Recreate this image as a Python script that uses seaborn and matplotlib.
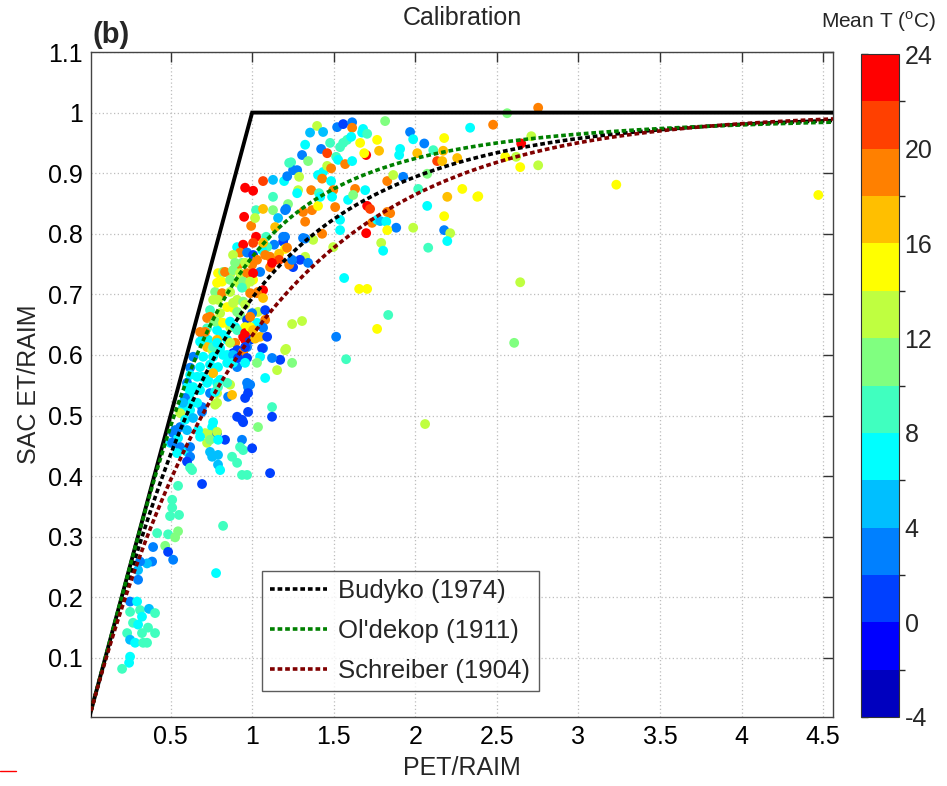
import numpy as np
import pandas as pd
import matplotlib
matplotlib.use("Agg")
import matplotlib.pyplot as plt
import seaborn as sns
from matplotlib.colors import ListedColormap, BoundaryNorm
from matplotlib.cm import ScalarMappable
from matplotlib.ticker import FuncFormatter
from matplotlib.lines import Line2D

# ---------------- data ----------------
pet_ratio = [
    2.753, 2.563, 2.477, 2.336, 2.711, 2.649, 2.551, 2.618, 2.643, 2.753,
    2.386, 3.232, 4.470, 2.643, 2.606, 2.060, 1.398, 1.355, 1.435, 1.521,
    1.558, 1.613, 1.613, 1.680, 1.674, 1.705, 1.815, 1.968, 1.987, 2.055,
    2.177, 1.325, 1.478, 1.423, 1.460, 1.539, 1.558, 1.582, 1.607, 1.662,
    1.699, 1.687, 1.766, 1.778, 1.907, 1.901, 2.012, 2.110, 2.134, 2.171,
    2.165, 2.257, 1.306, 1.343, 1.239, 1.251, 1.276, 1.288, 1.435, 1.404,
    1.460, 1.484, 1.429, 1.484, 1.515, 1.527, 1.570, 1.613, 1.196, 1.215,
    1.282, 1.276, 1.362, 1.410, 1.497, 1.490, 1.631, 1.693, 1.828, 1.865,
    1.926, 2.018, 2.073, 2.288, 2.196, 2.380, 1.202, 1.220, 1.312, 1.367,
    1.404, 1.509, 1.588, 1.619, 1.705, 1.723, 1.828, 1.846, 2.073, 2.177,
    1.735, 1.766, 1.785, 1.822, 1.883, 1.987, 1.828, 1.699, 1.539, 1.429,
    1.374, 1.325, 1.202, 1.190, 2.177, 2.214, 2.196, 2.079, 1.791, 1.803,
    1.497, 1.325, 1.294, 1.343, 1.251, 1.227, 1.202, 1.564, 1.656, 1.705,
    1.834, 1.766, 1.515, 1.306, 1.245, 1.208, 1.172, 1.245, 1.576, 1.067,
    1.128, 1.227, 0.957, 1.006, 1.128, 0.951, 1.024, 1.067, 1.128, 1.208,
    0.994, 1.018, 1.159, 1.141, 1.024, 1.086, 1.135, 1.190, 0.908, 0.945,
    0.926, 0.969, 1.092, 1.110, 1.165, 1.165, 1.214, 0.883, 0.938, 1.000,
    1.049, 1.110, 0.791, 0.822, 0.865, 0.908, 1.006, 1.245, 1.312, 1.061,
    1.122, 1.006, 1.539, 1.325, 1.417, 1.006, 1.067, 0.895, 0.957, 1.030,
    1.080, 0.834, 0.883, 0.926, 0.969, 1.006, 0.816, 0.865, 0.914, 0.957,
    0.988, 1.036, 1.067, 0.773, 0.816, 0.865, 0.908, 0.945, 1.036, 0.847,
    0.761, 0.742, 0.804, 0.883, 0.926, 0.969, 1.000, 1.030, 1.080, 0.724,
    0.761, 0.804, 0.865, 0.896, 0.957, 0.988, 0.724, 0.785, 0.822, 0.700,
    0.681, 0.730, 0.785, 0.847, 0.896, 0.945, 0.957, 0.988, 1.049, 1.067,
    0.969, 0.926, 0.883, 0.724, 0.755, 0.804, 0.847, 0.785, 0.945, 0.988,
    0.938, 1.030, 1.067, 0.791, 0.883, 0.957, 0.908, 0.988, 1.080, 0.742,
    0.773, 0.822, 0.865, 0.712, 0.908, 0.957, 0.988, 1.006, 1.018, 1.092,
    1.067, 0.681, 0.761, 0.865, 0.908, 0.945, 1.061, 1.122, 1.049, 1.030,
    0.969, 0.883, 0.822, 0.761, 0.700, 0.639, 0.620, 0.681, 0.742, 0.791,
    0.847, 0.908, 1.202, 1.153, 1.080, 0.988, 0.975, 0.865, 0.853, 0.877,
    0.785, 0.730, 0.693, 0.620, 0.601, 0.639, 0.681, 0.742, 0.785, 0.620,
    0.589, 0.577, 0.632, 0.693, 0.773, 0.957, 1.122, 0.908, 0.938, 1.122,
    1.036, 0.761, 0.755, 0.712, 0.742, 0.785, 0.834, 0.724, 0.559, 0.516,
    0.546, 0.497, 0.559, 0.601, 0.540, 0.620, 0.601, 0.620, 0.755, 0.791,
    0.877, 0.908, 0.938, 0.945, 1.000, 0.938, 0.969, 1.110, 0.663, 0.601,
    0.724, 0.761, 0.804, 0.577, 0.620, 0.663, 0.773, 0.791, 0.847, 0.785,
    0.559, 0.589, 0.638, 0.693, 0.528, 0.601, 0.669, 0.510, 0.620, 0.785,
    0.742, 0.681, 0.791, 0.742, 0.791, 0.926, 0.945, 0.975, 0.785, 0.883,
    0.914, 0.957, 0.957, 0.969, 0.975, 0.632, 0.804, 0.693, 0.546, 0.510,
    0.510, 0.497, 0.552, 0.822, 0.418, 0.485, 0.546, 0.528, 0.467, 0.393,
    0.485, 0.516, 0.387, 0.356, 0.313, 0.301, 0.301, 0.779, 0.252, 0.295,
    0.313, 0.368, 0.405, 0.252, 0.325, 0.270, 0.301, 0.362, 0.325, 0.405,
    0.234, 0.252, 0.283, 0.332, 0.356, 0.252, 0.246, 0.203,
]
et_ratio = [
    1.008, 0.999, 0.980, 0.975, 0.961, 0.949, 0.927, 0.927, 0.910, 0.913,
    0.862, 0.881, 0.864, 0.720, 0.620, 0.486, 0.978, 0.967, 0.968, 0.976,
    0.981, 0.984, 0.975, 0.973, 0.967, 0.965, 0.986, 0.968, 0.956, 0.949,
    0.958, 0.947, 0.950, 0.940, 0.933, 0.943, 0.950, 0.955, 0.960, 0.950,
    0.930, 0.933, 0.955, 0.937, 0.940, 0.930, 0.933, 0.938, 0.920, 0.937,
    0.920, 0.925, 0.930, 0.920, 0.918, 0.905, 0.905, 0.894, 0.902, 0.897,
    0.912, 0.908, 0.891, 0.887, 0.927, 0.922, 0.915, 0.920, 0.887, 0.895,
    0.872, 0.867, 0.872, 0.867, 0.872, 0.861, 0.874, 0.872, 0.887, 0.897,
    0.894, 0.874, 0.899, 0.874, 0.861, 0.861, 0.839, 0.849, 0.836, 0.839,
    0.846, 0.844, 0.856, 0.864, 0.846, 0.841, 0.836, 0.834, 0.846, 0.829,
    0.818, 0.823, 0.821, 0.820, 0.810, 0.810, 0.806, 0.801, 0.806, 0.800,
    0.790, 0.792, 0.795, 0.787, 0.806, 0.801, 0.788, 0.777, 0.785, 0.772,
    0.778, 0.762, 0.757, 0.752, 0.745, 0.749, 0.775, 0.727, 0.709, 0.709,
    0.666, 0.643, 0.630, 0.656, 0.651, 0.610, 0.592, 0.587, 0.593, 0.887,
    0.889, 0.917, 0.876, 0.871, 0.861, 0.828, 0.839, 0.841, 0.839, 0.841,
    0.813, 0.826, 0.826, 0.811, 0.795, 0.795, 0.782, 0.795, 0.778, 0.782,
    0.769, 0.769, 0.778, 0.762, 0.767, 0.757, 0.777, 0.765, 0.752, 0.749,
    0.737, 0.745, 0.735, 0.737, 0.732, 0.745, 0.724, 0.757, 0.793, 0.773,
    0.752, 0.765, 0.823, 0.820, 0.861, 0.785, 0.785, 0.752, 0.752, 0.757,
    0.765, 0.737, 0.740, 0.735, 0.735, 0.735, 0.721, 0.724, 0.719, 0.712,
    0.702, 0.704, 0.707, 0.704, 0.702, 0.704, 0.691, 0.688, 0.671, 0.679,
    0.691, 0.674, 0.669, 0.678, 0.666, 0.658, 0.669, 0.653, 0.658, 0.661,
    0.658, 0.653, 0.646, 0.646, 0.646, 0.636, 0.644, 0.641, 0.633, 0.630,
    0.638, 0.625, 0.625, 0.625, 0.620, 0.630, 0.625, 0.625, 0.630, 0.611,
    0.613, 0.603, 0.603, 0.613, 0.608, 0.611, 0.600, 0.719, 0.721, 0.721,
    0.711, 0.702, 0.694, 0.691, 0.686, 0.683, 0.671, 0.663, 0.674, 0.663,
    0.655, 0.653, 0.655, 0.638, 0.641, 0.636, 0.646, 0.641, 0.627, 0.630,
    0.645, 0.622, 0.613, 0.620, 0.608, 0.605, 0.611, 0.595, 0.597, 0.587,
    0.595, 0.600, 0.600, 0.597, 0.597, 0.597, 0.579, 0.580, 0.584, 0.580,
    0.587, 0.580, 0.608, 0.575, 0.562, 0.551, 0.547, 0.551, 0.531, 0.534,
    0.554, 0.559, 0.564, 0.567, 0.554, 0.547, 0.542, 0.537, 0.537, 0.537,
    0.529, 0.514, 0.521, 0.514, 0.518, 0.529, 0.514, 0.498, 0.493, 0.498,
    0.481, 0.489, 0.481, 0.471, 0.468, 0.471, 0.460, 0.455, 0.481, 0.471,
    0.463, 0.455, 0.448, 0.440, 0.438, 0.432, 0.424, 0.414, 0.432, 0.419,
    0.432, 0.422, 0.460, 0.443, 0.446, 0.402, 0.402, 0.405, 0.564, 0.547,
    0.554, 0.570, 0.559, 0.521, 0.509, 0.521, 0.539, 0.547, 0.554, 0.521,
    0.504, 0.493, 0.496, 0.506, 0.476, 0.476, 0.476, 0.455, 0.448, 0.473,
    0.460, 0.465, 0.460, 0.440, 0.435, 0.448, 0.489, 0.506, 0.620, 0.587,
    0.595, 0.613, 0.587, 0.554, 0.537, 0.410, 0.410, 0.387, 0.384, 0.361,
    0.348, 0.334, 0.336, 0.318, 0.306, 0.304, 0.309, 0.299, 0.285, 0.283,
    0.275, 0.262, 0.259, 0.256, 0.259, 0.245, 0.229, 0.240, 0.193, 0.193,
    0.179, 0.181, 0.174, 0.176, 0.168, 0.158, 0.155, 0.150, 0.141, 0.141,
    0.141, 0.130, 0.125, 0.125, 0.125, 0.102, 0.092, 0.082,
]
mean_t = [
    19, 11, 19, 7, 13, 23, 15, 13, 15, 13,
    15, 15, 15, 13, 11, 13, 13, 5, 5, 3,
    1, 3, 19, 7, 7, 9, 11, 3, 7, 3,
    15, 7, 9, 3, 21, 9, 9, 9, 7, 15,
    23, 15, 15, 17, 7, 7, 17, 9, 21, 17,
    17, 17, 3, 11, 9, 3, 3, 13, 7, 7,
    13, 19, 19, 7, 9, 7, 19, 7, 7, 3,
    13, 7, 19, 9, 19, 7, 19, 7, 19, 13,
    3, 9, 11, 15, 17, 15, 3, 11, 19, 19,
    15, 19, 7, 11, 23, 21, 19, 19, 7, 15,
    19, 7, 5, 7, 3, 13, 15, 23, 7, 19,
    13, 3, 3, 1, 3, 13, 7, 9, 13, 7,
    13, 13, 1, 3, 1, 19, 15, 7, 15, 15,
    9, 15, 3, 13, 13, 13, 1, 11, 9, 21,
    5, 9, 23, 23, 9, 23, 9, 17, 11, 3,
    19, 13, 5, 17, 23, 9, 3, 3, 7, 23,
    19, 3, 9, 19, 17, 21, 19, 13, 11, 19,
    3, 19, 15, 11, 13, 19, 15, 3, 3, 7,
    23, 1, 7, 19, 7, 21, 17, 11, 13, 19,
    19, 19, 11, 13, 19, 23, 15, 11, 13, 13,
    19, 19, 23, 11, 19, 13, 13, 11, 13, 15,
    13, 9, 13, 15, 11, 1, 3, 7, 19, 19,
    13, 15, 13, 7, 15, 13, 9, 7, 7, 5,
    19, 7, 17, 7, 19, 23, 23, 1, 17, 3,
    3, 1, 1, 17, 13, 7, 7, 15, 11, 13,
    9, 19, 17, 13, 13, 13, 11, 19, 1, 19,
    11, 15, 7, 19, 9, 23, 15, 17, 17, 1,
    3, 7, 9, 13, 1, 19, 1, 3, 7, 11,
    1, 5, 7, 7, 7, 3, 3, 7, 7, 7,
    7, 3, 13, 13, 7, 3, 3, 13, 3, 17,
    7, 7, 7, 7, 3, 7, 7, 3, 13, 7,
    3, 7, 7, 3, 13, 1, 9, 1, 1, 1,
    11, 7, 7, 13, 13, 3, 1, 13, 3, 3,
    7, 7, 3, 7, 7, 3, 1, 9, 5, 5,
    9, 9, 3, 9, 1, 9, 9, 1, 7, 7,
    7, 17, 7, 5, 7, 7, 7, 9, 9, 13,
    13, 7, 5, 3, 3, 5, 7, 3, 3, 13,
    11, 7, 7, 5, 5, 9, 1, 1, 7, 7,
    1, 1, 7, 3, 1, 9, 7, 1, 9, 9,
    9, 9, 9, 9, 9, 9, 11, 11, 11, 3,
    1, 3, 3, 5, 3, 5, 3, 7, 3, 7,
    9, 5, 9, 9, 7, 9, 7, 9, 9, 9,
    9, 5, 7, 9, 9, 7, 7, 9,
]

t_bounds = list(range(-4, 25, 2))
cbar_ticks = [-4, 0, 4, 8, 12, 16, 20, 24]
x_ticks = [0.5, 1, 1.5, 2, 2.5, 3, 3.5, 4, 4.5]
y_ticks = [0.1, 0.2, 0.3, 0.4, 0.5, 0.6, 0.7, 0.8, 0.9, 1.0, 1.1]
limit_x = [0.0, 1.0, 4.6]
limit_y = [0.0, 1.0, 1.0]
curve_labels = ["Budyko (1974)", "Ol'dekop (1911)", "Schreiber (1904)"]

# ---------------- style ----------------
sns.set_theme(style="white")
plt.rcParams['font.family'] = ['Liberation Sans', 'DejaVu Sans']
plt.rcParams['mathtext.fontset'] = 'custom'
plt.rcParams['mathtext.rm'] = 'Liberation Sans'

jet14 = [(0, 0, 0.75), (0, 0, 1), (0, 0.25, 1), (0, 0.5, 1), (0, 0.75, 1),
         (0, 1, 1), (0.25, 1, 0.75), (0.5, 1, 0.5), (0.75, 1, 0.25), (1, 1, 0),
         (1, 0.75, 0), (1, 0.5, 0), (1, 0.25, 0), (1, 0, 0)]
cmap = ListedColormap(jet14)
norm = BoundaryNorm(t_bounds, cmap.N)

W, H = 947, 786
fig = plt.figure(figsize=(W / 100, H / 100), dpi=100)
ax = fig.add_axes([91 / W, 1 - 717 / H, 742 / W, 665 / H])
cax = fig.add_axes([861 / W, 1 - 717 / H, 38 / W, 663 / H])

df = pd.DataFrame({"PET/RAIM": pet_ratio, "SAC ET/RAIM": et_ratio, "Mean T": mean_t})
sns.scatterplot(data=df, x="PET/RAIM", y="SAC ET/RAIM", hue="Mean T",
                palette=cmap, hue_norm=norm, s=50, linewidth=0,
                legend=False, ax=ax, zorder=2)

# theoretical curves
phi = np.linspace(0.0125, 4.6, 500)
budyko = np.sqrt(phi * np.tanh(1 / phi) * (1 - np.exp(-phi)))
oldekop = phi * np.tanh(1 / phi)
schreiber = 1 - np.exp(-phi)

ax.plot(limit_x, limit_y, color='black', lw=2.8, zorder=3, solid_joinstyle='miter')
dots = (0, (1.3, 0.8))
lw_c = 2.6
h1, = ax.plot(phi, budyko, color='black', lw=lw_c, linestyle=dots, zorder=4)
h2, = ax.plot(phi, oldekop, color=(0, 0.5, 0), lw=lw_c, linestyle=dots, zorder=4)
h3, = ax.plot(phi, schreiber, color=(0.5, 0, 0), lw=lw_c, linestyle=dots, zorder=4)

ax.set_xlim(0.0125, 4.56)
ax.set_ylim(0.0025, 1.1)
ax.set_xticks(x_ticks)
ax.set_yticks(y_ticks)
fmt = FuncFormatter(lambda v, p: f"{v:g}")
ax.xaxis.set_major_formatter(fmt)
ax.yaxis.set_major_formatter(fmt)
ax.grid(True, linestyle=(0, (1, 2)), color='#bdbdbd', lw=0.9)
ax.set_axisbelow(True)
ax.tick_params(direction='in', top=True, right=True, length=7, width=1,
               color='#333333', labelsize=18, labelcolor='black', pad=6)
for sp in ax.spines.values():
    sp.set_color('#444444')
    sp.set_linewidth(1.0)
ax.set_xlabel("PET/RAIM", fontsize=18, labelpad=5)
ax.set_ylabel("SAC ET/RAIM", fontsize=18, labelpad=5)

leg = ax.legend([h1, h2, h3], curve_labels, loc='upper left',
                bbox_to_anchor=(0.2305, 0.2195), fontsize=18.5, frameon=True,
                fancybox=False, edgecolor='#333333', handlelength=2.2,
                labelspacing=0.62, borderpad=0.32, handletextpad=0.45,
                borderaxespad=0)
leg.get_frame().set_linewidth(1.0)

# colorbar
cb = fig.colorbar(ScalarMappable(norm=norm, cmap=cmap), cax=cax, ticks=cbar_ticks)
cb.outline.set_linewidth(0.8)
cb.outline.set_edgecolor('#333333')
cax.tick_params(labelsize=18, direction='in', length=5, width=1, color='#333333',
                left=True, right=False, labelleft=False, labelright=True, pad=4)
cb.ax.yaxis.set_major_formatter(FuncFormatter(lambda v, p: f"{v:g}"))

fig.text(879 / W, 1 - 22 / H, r"Mean T ($^{\rm o}$C)", fontsize=15,
         ha='center', va='center')
fig.text(462 / W, 1 - 18 / H, "Calibration", fontsize=18, ha='center', va='center')
fig.text(92 / W, 1 - 35 / H, "(b)", fontsize=21, fontweight='bold',
         ha='left', va='center')
fig.add_artist(Line2D([0, 16 / W], [1 - 771 / H, 1 - 771 / H], color='red', lw=1))

fig.savefig("out.png", dpi=100)
